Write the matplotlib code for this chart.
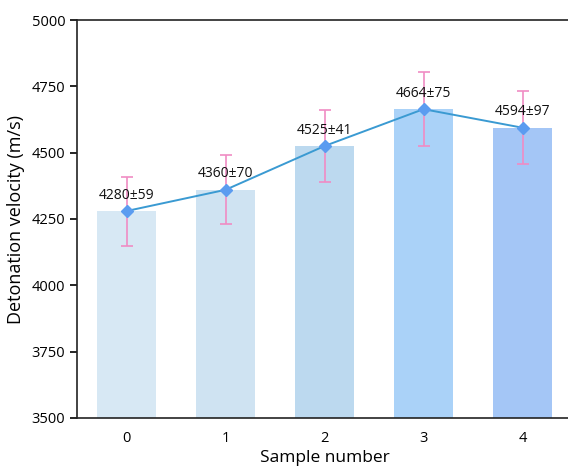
import matplotlib
matplotlib.use('Agg')
import matplotlib.pyplot as plt
import numpy as np

samples = [0, 1, 2, 3, 4]
velocity = [4280, 4360, 4525, 4664, 4594]
err_drawn = [130, 130, 135, 140, 138]
labels = ['4280±59', '4360±70', '4525±41', '4664±75', '4594±97']
bar_colors = ['#d7e8f4', '#cfe3f2', '#bcd9ef', '#aad2f8', '#a4c6f6']

plt.rcParams['font.family'] = ['Open Sans', 'DejaVu Sans']

fig = plt.figure(figsize=(5.68, 4.71), dpi=100)
ax = fig.add_axes([77 / 568, 1 - 418 / 471, 495 / 568, (418 - 20) / 471])

x = np.array(samples)
ax.bar(x, velocity, width=0.6, color=bar_colors, zorder=1)
ax.errorbar(x, velocity, yerr=err_drawn, fmt='none', ecolor='#f08cc4',
            elinewidth=1.2, capsize=4, capthick=1.2, zorder=2)
ax.plot(x, velocity, color='#3a9ad2', lw=1.4, marker='D', markersize=6,
        markerfacecolor='#5b9cf0', markeredgecolor='#5b9cf0', zorder=3)

for xi, v, t in zip(x, velocity, labels):
    ax.annotate(t, (xi, v), xytext=(0, 6), textcoords='offset points',
                ha='center', va='bottom', fontsize=10, color='#111111', zorder=4)

ax.set_xlim(-0.5, 4.5)
ax.set_ylim(3500, 5000)
ax.set_yticks(np.arange(3500, 5001, 250))
ax.set_xticks(x)
ax.spines['right'].set_visible(False)
for s in ['left', 'top', 'bottom']:
    ax.spines[s].set_linewidth(1.2)
    ax.spines[s].set_color('#222222')
ax.tick_params(axis='y', direction='out', length=5, width=1.2, labelsize=10.5)
ax.tick_params(axis='x', length=0, labelsize=10.5, pad=9)
ax.set_xlabel('Sample number', fontsize=12.5, labelpad=3)
ax.set_ylabel('Detonation velocity (m/s)', fontsize=13, labelpad=5)

fig.savefig('out.png', dpi=100)
